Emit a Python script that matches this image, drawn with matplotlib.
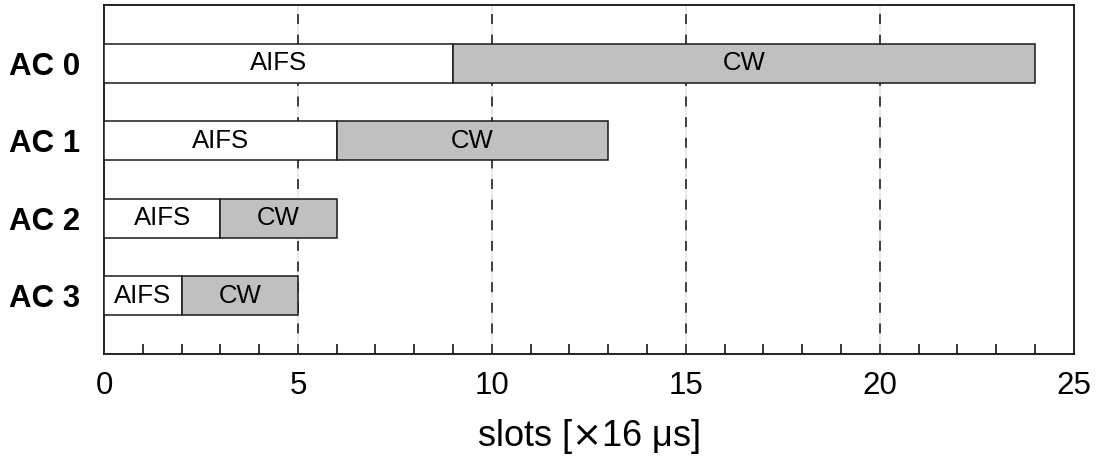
import matplotlib.pyplot as plt
from matplotlib.ticker import MultipleLocator

plt.rcParams['font.family'] = ['Liberation Sans', 'DejaVu Sans']
plt.rcParams['mathtext.fontset'] = 'dejavusans'

# EDCA access categories: AIFS and contention window lengths (slots)
categories = ['AC 0', 'AC 1', 'AC 2', 'AC 3']
aifs = [9, 6, 3, 2]
cw = [15, 7, 3, 3]

fig, ax = plt.subplots(figsize=(10.99, 4.59), dpi=100)
fig.subplots_adjust(left=0.0946, right=0.977, top=0.989, bottom=0.229)

ypos = list(range(len(categories)))
edge = '#1a1a1a'
ax.barh(ypos, aifs, height=0.5, color='white', edgecolor=edge, linewidth=1.1, zorder=3)
ax.barh(ypos, cw, left=aifs, height=0.5, color='#c0c0c0', edgecolor=edge, linewidth=1.1, zorder=3)

for y, a, c in zip(ypos, aifs, cw):
    ax.text(a / 2, y, 'AIFS', ha='center', va='center', fontsize=18.5, zorder=4)
    ax.text(a + c / 2, y, 'CW', ha='center', va='center', fontsize=18.5, zorder=4)

ax.set_xlim(0, 25)
ax.set_ylim(3.75, -0.75)
ax.set_yticks(ypos)
ax.set_yticklabels(categories, fontsize=22.5, fontweight='bold')
ax.tick_params(axis='y', length=0, pad=17)

ax.xaxis.set_major_locator(MultipleLocator(5))
ax.xaxis.set_minor_locator(MultipleLocator(1))
ax.tick_params(axis='x', which='both', direction='in', labelsize=22.5, pad=12)
ax.tick_params(axis='x', which='major', length=0)
ax.tick_params(axis='x', which='minor', length=7, width=1.1)

# dashed guides at every 5 slots, behind the bars
for x in [5, 10, 15, 20]:
    ax.axvline(x, color='#e4e4e4', linewidth=1.1, zorder=1)
    ax.axvline(x, color='#111111', linestyle=(0, (6.5, 7)), linewidth=1.1, zorder=1.5)

for s in ax.spines.values():
    s.set_linewidth(1.3)
    s.set_color('#111111')

ax.set_xlabel(r'slots [$\times$16 μs]', fontsize=26, labelpad=12)

fig.savefig('out.png', dpi=100)
